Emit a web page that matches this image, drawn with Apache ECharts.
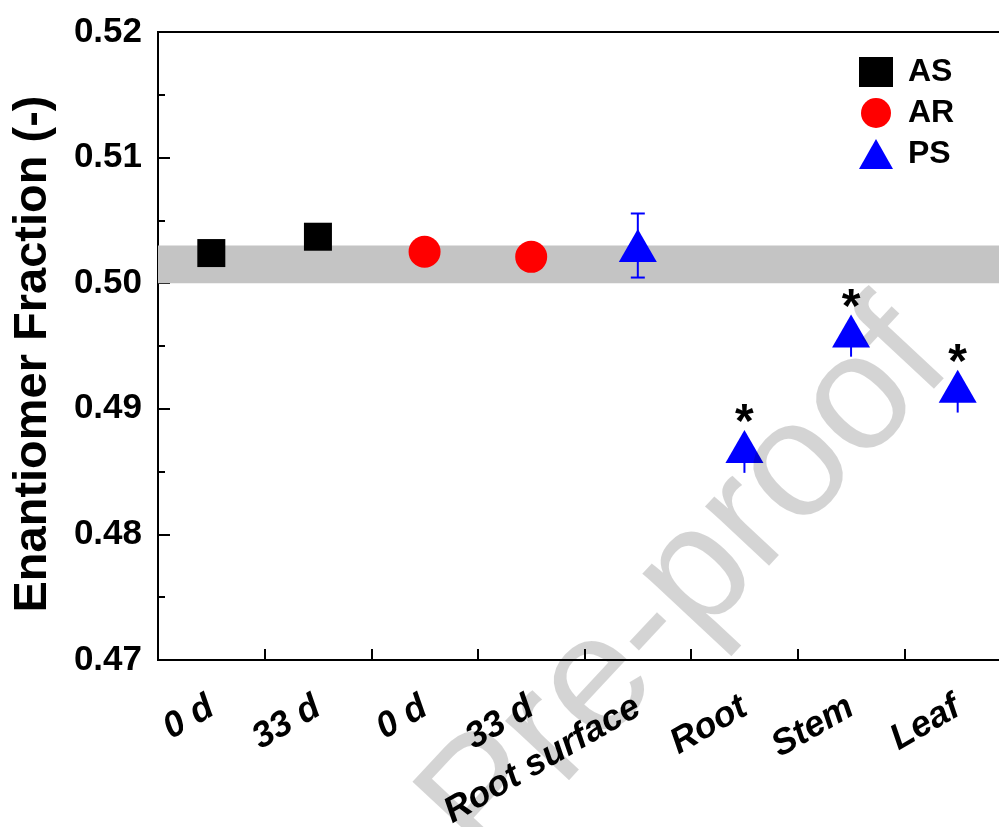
<!DOCTYPE html>
<html>
<head>
<meta charset="utf-8">
<title>Enantiomer Fraction</title>
<script src="https://cdn.jsdelivr.net/npm/echarts@6/dist/echarts.min.js"></script>
<style>
  html, body { margin: 0; padding: 0; background: #fff; }
  #chart { width: 999px; height: 827px; }
</style>
</head>
<body>
<div id="chart"></div>
<script>
// Data
const categories = ['0 d', '33 d', '0 d', '33 d', 'Root surface', 'Root', 'Stem', 'Leaf'];
const yTicks = [0.47, 0.48, 0.49, 0.50, 0.51, 0.52];

// AS: categories 0-1, AR: 2-3, PS: 4-7
const asIndex = [0, 1];
const asValues = [0.5024, 0.5037];
const arIndex = [2, 3];
const arValues = [0.5025, 0.5021];
const psIndex = [4, 5, 6, 7];
const psValues = [0.5030, 0.4870, 0.4962, 0.4918];
const psErrUp = [0.00255, 0, 0, 0];
const psErrDown = [0.00255, 0.0021, 0.00205, 0.0021];
const psSig = ['', '*', '*', '*'];

// grey reference band
const bandRange = [0.5000, 0.5030];

const FONT = 'Liberation Sans, Arial, sans-serif';

function pairs(idx, vals) {
    return idx.map((x, i) => [x, vals[i]]);
}

const chart = echarts.init(document.getElementById('chart'));

const errData = psIndex.map((x, i) => [x, psValues[i], psErrUp[i], psErrDown[i]]);

const option = {
    backgroundColor: '#fff',
    animation: false,
    grid: {
        left: 158, top: 32, width: 853, bottom: 167,
        outerBoundsMode: 'none',
        show: true, borderColor: '#000', borderWidth: 2
    },
    legend: {
        data: ['AS', 'AR', 'PS'],
        orient: 'vertical',
        left: 854, top: 51,
        itemWidth: 34, itemHeight: 30, itemGap: 9,
        textStyle: {
            fontFamily: FONT, fontWeight: 'bold', fontSize: 32, color: '#000',
            padding: [0, 0, 0, 10]
        }
    },
    xAxis: [{
        type: 'category',
        data: categories,
        boundaryGap: true,
        axisLine: { lineStyle: { color: '#000', width: 2 } },
        axisTick: { inside: true, alignWithLabel: true, length: 20, lineStyle: { color: '#000', width: 2 } },
        axisLabel: {
            interval: 0, rotate: 30, margin: 45,
            fontFamily: FONT, fontWeight: 'bold', fontStyle: 'italic', fontSize: 36, color: '#000'
        },
        splitLine: { show: false }
    }, {
        // minor ticks between categories
        type: 'value', min: 0, max: 8, interval: 1, position: 'bottom',
        axisLine: { show: false },
        axisTick: { inside: true, length: 11, lineStyle: { color: '#000', width: 2 } },
        axisLabel: { show: false },
        splitLine: { show: false }
    }],
    yAxis: {
        type: 'value',
        min: yTicks[0], max: yTicks[yTicks.length - 1], interval: 0.01,
        name: 'Enantiomer Fraction (-)',
        nameLocation: 'middle', nameGap: 101,
        nameTextStyle: {
            fontFamily: FONT, fontWeight: 'bold', fontSize: 47, color: '#000',
            padding: [0, 16, 0, 0]
        },
        axisLine: { lineStyle: { color: '#000', width: 2 } },
        axisTick: { inside: true, length: 12, lineStyle: { color: '#000', width: 2 } },
        minorTick: { show: true, splitNumber: 2, length: 7, lineStyle: { color: '#000', width: 2 } },
        axisLabel: {
            margin: 16, formatter: v => v.toFixed(2),
            fontFamily: FONT, fontWeight: 'bold', fontSize: 35, color: '#000'
        },
        splitLine: { show: false },
        minorSplitLine: { show: false }
    },
    series: [{
        name: 'band',
        type: 'line',
        data: [],
        z: 1,
        silent: true,
        markArea: {
            silent: true,
            itemStyle: { color: '#c4c4c4' },
            data: [[{ yAxis: bandRange[0] }, { yAxis: bandRange[1] }]]
        }
    }, {
        name: 'PS error',
        type: 'custom',
        z: 3,
        data: errData,
        renderItem: function (params, api) {
            const x = api.value(0);
            const c = api.coord([x, api.value(1)]);
            const top = api.coord([x, api.value(1) + api.value(2)]);
            const bot = api.coord([x, api.value(1) - api.value(3)]);
            const style = { stroke: '#0000ff', lineWidth: 2 };
            const kids = [{
                type: 'line', shape: { x1: c[0], y1: top[1], x2: c[0], y2: bot[1] }, style: style
            }];
            if (api.value(2) > 0) {
                kids.push({ type: 'line', shape: { x1: c[0] - 7, y1: top[1], x2: c[0] + 7, y2: top[1] }, style: style });
                kids.push({ type: 'line', shape: { x1: c[0] - 7, y1: bot[1], x2: c[0] + 7, y2: bot[1] }, style: style });
            }
            return { type: 'group', children: kids };
        }
    }, {
        name: 'AS',
        type: 'scatter',
        z: 5,
        symbol: 'rect',
        symbolSize: [28, 28],
        itemStyle: { color: '#000', opacity: 1 },
        data: pairs(asIndex, asValues)
    }, {
        name: 'AR',
        type: 'scatter',
        z: 5,
        symbol: 'circle',
        symbolSize: 32,
        itemStyle: { color: '#ff0000', opacity: 1 },
        data: pairs(arIndex, arValues)
    }, {
        name: 'PS',
        type: 'scatter',
        z: 5,
        symbol: 'triangle',
        symbolSize: [38, 33],
        itemStyle: { color: '#0000ff', opacity: 1 },
        label: {
            show: true, position: 'top', distance: -18,
            formatter: p => psSig[p.dataIndex],
            fontFamily: FONT, fontWeight: 'bold', fontSize: 48, color: '#000'
        },
        data: pairs(psIndex, psValues)
    }],
    graphic: [{
        type: 'text',
        z: 100,
        silent: true,
        x: 922, y: 335,
        rotation: 47 * Math.PI / 180,
        style: {
            text: 'Journal Pre-proof',
            x: 0, y: 0,
            align: 'right', verticalAlign: 'middle',
            font: 'normal 165px ' + FONT,
            fill: 'rgba(0,0,0,0.17)'
        }
    }]
};

chart.setOption(option);
</script>
</body>
</html>
